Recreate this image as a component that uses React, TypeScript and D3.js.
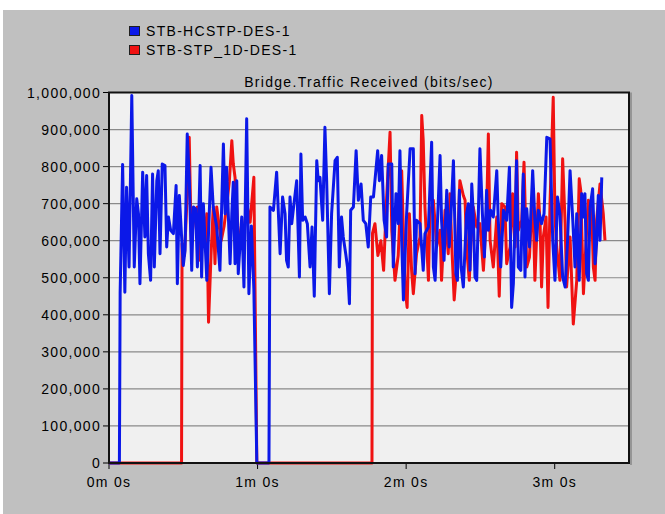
import React from 'react';
import * as d3 from 'd3';

// series: [seconds, bits/sec]
const blueSeries: [number, number][] = [
  [0, 0], [4.2, 0], [4.5, 460000], [5.5, 806000], [6.4, 461000], [7.1, 744000], [8.1, 529000], [9.2, 992000],
  [10.2, 529000], [11.2, 713000], [11.9, 673000], [12.5, 484000], [13.6, 785000], [14.5, 610000], [15.2, 776000],
  [15.9, 565000], [16.8, 493000], [17.6, 780000], [18.3, 529000], [19.3, 762000], [19.9, 789000], [20.6, 565000],
  [21.5, 807000], [22.6, 803000], [23.3, 583000], [24.0, 664000], [24.9, 628000], [26.0, 619000], [27.1, 749000],
  [27.6, 484000], [28.4, 722000], [29.4, 601000], [30.0, 533000], [30.7, 574000], [31.6, 888000], [32.4, 771000],
  [33.4, 520000], [34.1, 691000], [35.0, 686000], [35.7, 529000], [36.8, 803000], [37.4, 502000], [38.1, 700000],
  [39.5, 493000], [40.5, 677000], [41.2, 798000], [42.1, 691000], [43.5, 637000], [44.8, 520000], [46.2, 861000],
  [46.9, 673000], [47.5, 798000], [48.9, 538000], [49.6, 673000], [50.2, 758000], [50.9, 538000], [51.6, 762000],
  [52.2, 511000], [53.6, 664000], [54.5, 475000], [55.6, 929000], [56.5, 457000], [57.5, 640000], [58.5, 470000],
  [59.7, 0], [64.6, 0],
  [65.0, 691000], [66.4, 682000], [67.7, 785000], [69.1, 565000], [70.1, 718000], [71.1, 673000], [71.7, 547000],
  [72.4, 529000], [73.1, 718000], [73.8, 646000], [74.7, 700000], [75.8, 762000], [76.9, 502000], [77.5, 834000],
  [78.2, 655000], [79.2, 664000], [80.1, 646000], [81.2, 529000], [82.0, 637000], [82.9, 450000], [83.9, 816000],
  [84.5, 762000], [85.2, 771000], [86.3, 655000], [87.2, 906000], [87.9, 762000], [89.0, 457000], [89.9, 673000],
  [91.3, 816000], [92.2, 825000], [93.0, 529000], [93.9, 664000], [94.6, 610000], [95.6, 565000], [96.3, 529000],
  [97.1, 430000], [97.6, 682000], [98.7, 691000], [99.8, 843000], [100.7, 709000], [101.8, 753000], [102.7, 655000],
  [103.7, 646000], [104.7, 583000], [105.7, 718000], [106.8, 718000], [108.5, 843000], [109.2, 762000],
  [110.1, 830000], [111.1, 655000], [112.1, 610000], [112.8, 807000], [114.2, 807000], [114.8, 529000],
  [115.9, 727000], [116.8, 646000], [117.5, 843000], [118.2, 601000], [118.9, 440000], [120.2, 673000],
  [121.6, 848000], [122.9, 848000], [123.6, 511000], [124.2, 655000], [125.6, 646000], [126.9, 520000],
  [127.6, 619000], [129.0, 637000], [130.3, 866000], [131.0, 529000], [131.7, 493000], [133.0, 709000],
  [133.7, 830000], [134.3, 655000], [135.3, 547000], [136.4, 736000], [137.4, 583000], [138.4, 713000],
  [139.1, 816000], [140.1, 511000], [140.7, 493000], [141.5, 736000], [142.2, 529000], [143.1, 475000],
  [144.4, 673000], [145.1, 700000], [145.8, 520000], [146.5, 753000], [147.1, 673000], [147.8, 502000],
  [148.5, 493000], [149.8, 848000], [150.8, 673000], [151.6, 556000], [152.5, 736000], [153.2, 628000],
  [154.1, 682000], [155.2, 664000], [156.6, 789000], [157.2, 655000], [158.2, 529000], [159.3, 682000],
  [160.6, 655000], [161.7, 798000], [162.6, 420000], [163.3, 484000], [164.6, 816000], [165.3, 529000],
  [166.3, 520000], [167.3, 780000], [168.0, 502000], [168.7, 686000], [169.8, 583000], [171.1, 789000],
  [172.0, 655000], [172.7, 601000], [173.4, 682000], [174.7, 646000], [175.7, 673000], [176.8, 879000],
  [178.1, 875000], [179.2, 601000], [180.1, 493000], [181.1, 718000], [182.1, 673000], [183.2, 502000],
  [184.2, 475000], [185.2, 601000], [186.2, 789000], [187.3, 655000], [188.2, 529000], [188.9, 673000],
  [189.9, 493000], [190.9, 727000], [191.6, 664000], [192.2, 727000], [192.9, 511000], [193.6, 493000],
  [194.3, 691000], [195.3, 740000], [196.3, 538000], [196.9, 592000], [197.6, 722000], [198.3, 601000],
  [199.0, 771000],
];

const redSeries: [number, number][] = [
  [0, 0], [29.3, 0], [29.5, 592000], [30.5, 560000], [31.6, 727000], [32.4, 879000], [33.2, 600000],
  [34.1, 650000], [35.0, 682000], [35.7, 691000], [36.8, 547000], [37.8, 620000], [38.7, 600000],
  [39.5, 673000], [40.2, 380000], [41.2, 560000], [42.1, 691000], [42.8, 538000], [43.5, 691000],
  [44.2, 655000], [45.3, 600000], [46.5, 640000], [47.6, 700000], [48.6, 760000], [49.6, 870000],
  [50.2, 807000], [50.9, 771000], [52.0, 640000], [53.2, 580000], [54.5, 620000], [55.6, 700000],
  [57.0, 650000], [58.5, 771000], [59.7, 0],
  [106.2, 0], [106.4, 620000], [107.4, 646000], [108.6, 560000], [109.8, 600000], [110.9, 520000],
  [112.0, 700000], [113.5, 893000], [114.2, 628000], [115.5, 493000], [116.8, 560000], [118.2, 789000],
  [119.5, 475000], [120.4, 420000], [121.3, 673000], [122.2, 520000], [122.9, 457000], [124.2, 565000],
  [125.6, 610000], [126.3, 938000], [126.9, 870000], [127.6, 691000], [129.0, 493000], [129.6, 673000],
  [131.0, 709000], [131.7, 646000], [132.3, 583000], [133.7, 628000], [134.3, 493000], [135.7, 682000],
  [137.0, 565000], [137.7, 727000], [138.4, 592000], [139.4, 440000], [140.4, 529000], [141.7, 762000],
  [143.1, 722000], [143.8, 709000], [144.4, 583000], [145.5, 493000], [146.5, 637000], [147.1, 691000],
  [148.5, 637000], [149.8, 646000], [151.2, 520000], [152.5, 673000], [153.2, 888000], [153.9, 601000],
  [155.2, 529000], [156.6, 664000], [157.6, 450000], [158.6, 700000], [159.9, 691000], [160.6, 538000],
  [162.0, 583000], [163.0, 727000], [164.0, 583000], [164.6, 839000], [165.3, 628000], [166.7, 655000],
  [167.6, 812000], [168.7, 529000], [169.8, 556000], [171.1, 736000], [172.0, 493000], [173.4, 727000],
  [174.1, 646000], [174.7, 475000], [175.4, 610000], [176.5, 664000], [177.3, 420000], [178.1, 700000],
  [179.4, 987000], [180.1, 664000], [180.8, 583000], [182.1, 493000], [183.2, 821000], [184.2, 646000],
  [184.8, 475000], [186.2, 610000], [187.5, 375000], [188.9, 493000], [189.9, 767000], [190.5, 736000],
  [191.6, 457000], [192.9, 628000], [193.6, 709000], [194.9, 691000], [195.6, 529000], [196.3, 493000],
  [196.9, 655000], [198.3, 753000], [199.6, 673000], [200.3, 601000],
];

const seriesNames = ['STB-HCSTP-DES-1', 'STB-STP_1D-DES-1'];
const seriesColors = ['#0b18e8', '#f01212'];
const yTicks = [0, 100000, 200000, 300000, 400000, 500000, 600000, 700000, 800000, 900000, 1000000];
const xTicks = [0, 60, 120, 180];
const xTickLabels = ['0m 0s', '1m 0s', '2m 0s', '3m 0s'];
const chartTitle = 'Bridge.Traffic Received (bits/sec)';

const W = 665;
const H = 514;
const plot = { left: 109, right: 629, top: 92.5, bottom: 463 };
const font = '"Liberation Sans", Arial, sans-serif';

export default function App() {
  const x = d3.scaleLinear().domain([0, 210]).range([plot.left, plot.right]);
  const y = d3.scaleLinear().domain([0, 1000000]).range([plot.bottom, plot.top]);
  const line = d3.line<[number, number]>().x(d => x(d[0])).y(d => y(d[1]));
  const fmt = d3.format(',');

  return (
    <svg width={W} height={H} style={{ position: 'absolute', left: 0, top: 0 }}
         fontFamily={font} fontSize={14}>
      <rect x={0} y={0} width={W} height={H} fill="#ffffff" />
      <rect x={3} y={10} width={W - 3} height={H - 10} fill="#c0c0c0" />

      {/* legend */}
      {seriesNames.map((name, i) => (
        <g key={name}>
          <rect x={129.5} y={26.5 + i * 19} width={10} height={9} fill={seriesColors[i]} stroke="#202020" />
          <text x={146} y={36 + i * 19} letterSpacing={1.3} fill="#000">{name}</text>
        </g>
      ))}
      <text x={(plot.left + plot.right) / 2} y={87} textAnchor="middle" letterSpacing={1.3}>{chartTitle}</text>

      {/* plot frame */}
      <rect x={plot.left} y={plot.top} width={plot.right - plot.left} height={plot.bottom - plot.top}
            fill="#f0f0f0" />
      {yTicks.map(t => (
        <g key={t}>
          <line x1={plot.left} x2={plot.right} y1={y(t)} y2={y(t)} stroke="#8a8a8a" strokeWidth={1.2} />
          <line x1={plot.left - 6} x2={plot.left} y1={y(t)} y2={y(t)} stroke="#000" />
          <text x={plot.left - 8} y={y(t) + 5} textAnchor="end" letterSpacing={1.3}>{fmt(t)}</text>
        </g>
      ))}
      {xTicks.map((t, i) => (
        <g key={t}>
          <line x1={x(t)} x2={x(t)} y1={plot.bottom} y2={plot.bottom + 6} stroke="#000" />
          <text x={x(t)} y={487} textAnchor="middle" letterSpacing={1.3}>{xTickLabels[i]}</text>
        </g>
      ))}

      <path d={line(redSeries) || ''} fill="none" stroke={seriesColors[1]} strokeWidth={3} strokeLinejoin="round" />
      <path d={line(blueSeries) || ''} fill="none" stroke={seriesColors[0]} strokeWidth={3} strokeLinejoin="round" />

      <rect x={plot.left} y={plot.top} width={plot.right - plot.left} height={plot.bottom - plot.top}
            fill="none" stroke="#111" strokeWidth={2} />
      <line x1={plot.right + 2} x2={plot.right + 2} y1={plot.top} y2={plot.bottom + 2} stroke="#6a6a6a" />
    </svg>
  );
}
